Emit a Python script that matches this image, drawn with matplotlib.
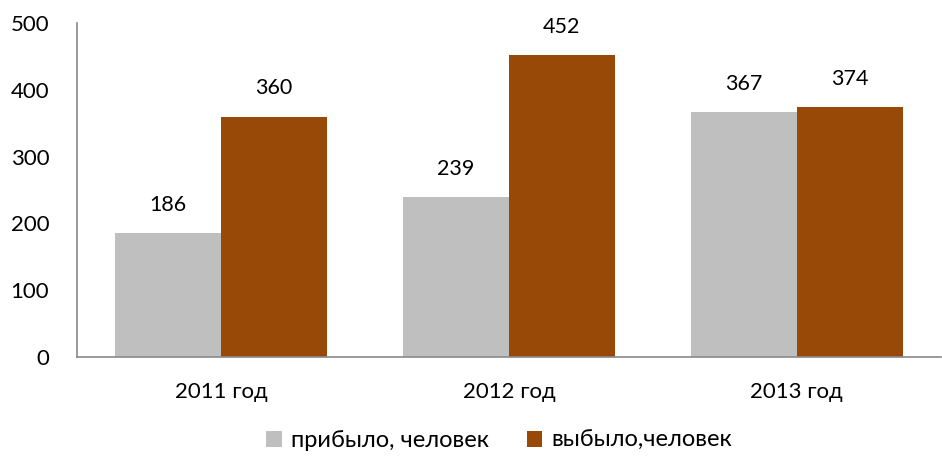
import numpy as np
import matplotlib.pyplot as plt

# Data
years = ['2011 год', '2012 год', '2013 год']
arrived = [186, 239, 367]
departed = [360, 452, 374]
series_names = ['прибыло, человек', 'выбыло,человек']
colors = ['#BFBFBF', '#984807']

plt.rcParams['font.family'] = ['Lato', 'DejaVu Sans']

fig = plt.figure(figsize=(9.42, 4.61), dpi=100)
ax = fig.add_axes([0.0817, 0.2256, 0.917, 0.7244])

x = np.arange(len(years))
w = 0.368
b1 = ax.bar(x - w / 2, arrived, w, color=colors[0], label=series_names[0])
b2 = ax.bar(x + w / 2, departed, w, color=colors[1], label=series_names[1])

for bars in (b1, b2):
    for rect in bars:
        ax.annotate(str(int(rect.get_height())),
                    (rect.get_x() + rect.get_width() / 2, rect.get_height()),
                    xytext=(0, 13), textcoords='offset points',
                    ha='center', va='bottom', fontsize=15.5)

ax.set_xlim(-0.5, 2.5)
ax.set_ylim(0, 500)
ax.set_yticks(range(0, 501, 100))
ax.set_xticks(x)
ax.set_xticklabels(years)
ax.tick_params(axis='both', length=0, labelsize=16)
ax.tick_params(axis='y', pad=20)
ax.tick_params(axis='x', pad=18)

for s in ('top', 'right'):
    ax.spines[s].set_visible(False)
for s in ('left', 'bottom'):
    ax.spines[s].set_color('#898989')
    ax.spines[s].set_linewidth(1.2)

fig.legend(loc='lower center', bbox_to_anchor=(0.53, -0.025), ncol=2,
           frameon=False, fontsize=17, handlelength=0.65, handleheight=0.65,
           handletextpad=0.4, columnspacing=1.6)

fig.savefig('out.png', dpi=100)
